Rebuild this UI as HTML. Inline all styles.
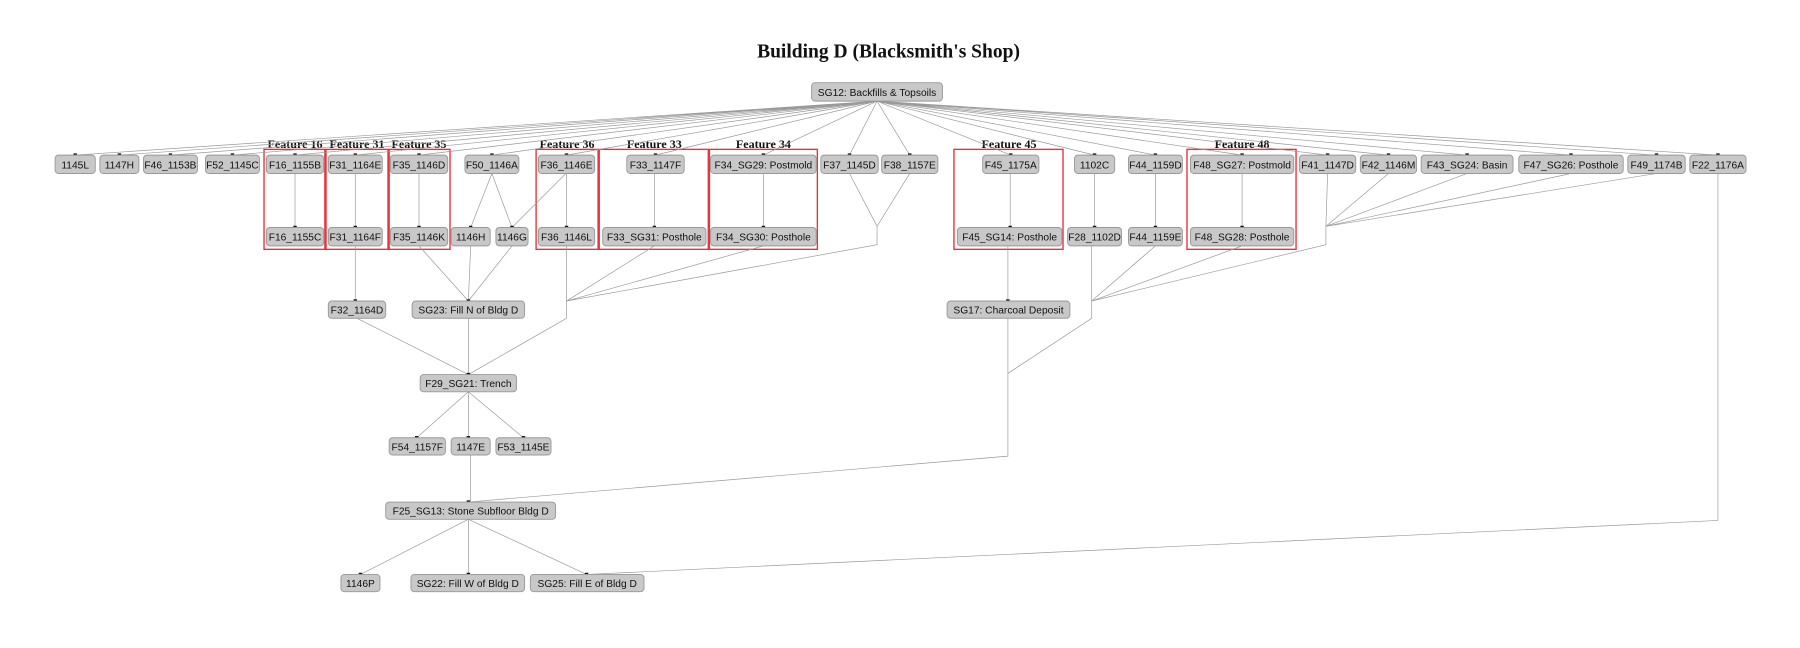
<!DOCTYPE html>
<html><head><meta charset="utf-8"><style>
html,body{margin:0;padding:0;background:#fff;}
svg{display:block;}
.n rect{fill:#c8c8c8;stroke:#999;stroke-width:0.8;}
.n text,text.l{font-family:"Liberation Sans",sans-serif;font-size:8.9px;fill:#111;text-anchor:middle;}
.e{stroke:#9a9a9a;stroke-width:0.6;fill:none;}
.c{fill:none;stroke:#e8323c;stroke-width:1.2;}
.ft{font-family:"Liberation Serif",serif;font-weight:bold;font-size:10.5px;text-anchor:middle;fill:#111;}
.a{fill:#111;}
</style></head><body>
<svg width="1800" height="648" viewBox="0 0 1568 564" preserveAspectRatio="none" xmlns="http://www.w3.org/2000/svg">
<text x="774" y="50" style="font-family:'Liberation Serif',serif;font-weight:bold;font-size:17px;text-anchor:middle;fill:#111">Building D (Blacksmith's Shop)</text>

<rect class="c" x="230" y="130" width="53" height="87"/><text class="ft" x="257" y="129">Feature 16</text>
<rect class="c" x="284" y="130" width="54" height="87"/><text class="ft" x="311" y="129">Feature 31</text>
<rect class="c" x="339" y="130" width="53" height="87"/><text class="ft" x="365" y="129">Feature 35</text>
<rect class="c" x="467" y="130" width="54" height="87"/><text class="ft" x="494" y="129">Feature 36</text>
<rect class="c" x="522" y="130" width="95" height="87"/><text class="ft" x="570" y="129">Feature 33</text>
<rect class="c" x="618" y="130" width="94" height="87"/><text class="ft" x="665" y="129">Feature 34</text>
<rect class="c" x="831" y="130" width="95" height="87"/><text class="ft" x="879" y="129">Feature 45</text>
<rect class="c" x="1034" y="130" width="95" height="87"/><text class="ft" x="1082" y="129">Feature 48</text>

<g class="e">
<path d="M764 88L65.5 135M764 88L104 135M764 88L148.5 135M764 88L202.5 135M764 88L257 135M764 88L309.5 135M764 88L365 135M764 88L428.5 135M764 88L493.5 135M764 88L571 135M764 88L665 135M764 88L740 135M764 88L792.5 135M764 88L880.5 135M764 88L953.5 135M764 88L1006.5 135M764 88L1082 135M764 88L1156.5 135M764 88L1209.5 135M764 88L1278 135M764 88L1368.5 135M764 88L1443 135M764 88L1496.5 135"/>
<path d="M257 151V198M309.5 151V198M365 151V198M493.5 151V198M570 151V198M665 151V198M880 151V198M953.5 151V198M1006.5 151V198M1082 151V198"/>
<path d="M428.5 151L410 198M428.5 151L446 198M493 151L446 198"/>
<path d="M365 214L408 262M410 214L408 262M446 214L408 262M309.5 214V262"/>
<path d="M311 277L408 326M408 277V326M493.5 214V277L408 326"/>
<path d="M570 214L493.5 262M665 214L493.5 262M740 151L764 197M792.5 151L764 197M764 197V213L493.5 262"/>
<path d="M1209.5 151L1155 197M1278 151L1155 197M1368.5 151L1155 197M1443 151L1155 197M1156.5 151L1155 197V213L951 262"/>
<path d="M1006.5 214L951 262M1082 214L951 262M951 214V277L878 325"/>
<path d="M878 214V262M878 277V397L408 437"/>
<path d="M408 341L363 381M408 341V381M408 341L456 381M410 396V437"/>
<path d="M408 452L314 500M408 452V500M408 452L511 500M1496.5 151V453L511 500"/>
</g>

<g class="a">
<rect x="64" y="133.5" width="3" height="2"/><rect x="102.5" y="133.5" width="3" height="2"/><rect x="147" y="133.5" width="3" height="2"/><rect x="201" y="133.5" width="3" height="2"/><rect x="255.5" y="133.5" width="3" height="2"/><rect x="308" y="133.5" width="3" height="2"/><rect x="363.5" y="133.5" width="3" height="2"/><rect x="427" y="133.5" width="3" height="2"/><rect x="492" y="133.5" width="3" height="2"/><rect x="569.5" y="133.5" width="3" height="2"/><rect x="663.5" y="133.5" width="3" height="2"/><rect x="738.5" y="133.5" width="3" height="2"/><rect x="791" y="133.5" width="3" height="2"/><rect x="879" y="133.5" width="3" height="2"/><rect x="952" y="133.5" width="3" height="2"/><rect x="1005" y="133.5" width="3" height="2"/><rect x="1080.5" y="133.5" width="3" height="2"/><rect x="1155" y="133.5" width="3" height="2"/><rect x="1208" y="133.5" width="3" height="2"/><rect x="1276.5" y="133.5" width="3" height="2"/><rect x="1367" y="133.5" width="3" height="2"/><rect x="1441.5" y="133.5" width="3" height="2"/><rect x="1495" y="133.5" width="3" height="2"/>
<rect x="255.5" y="196.5" width="3" height="2"/><rect x="308" y="196.5" width="3" height="2"/><rect x="363.5" y="196.5" width="3" height="2"/><rect x="408.5" y="196.5" width="3" height="2"/><rect x="444.5" y="196.5" width="3" height="2"/><rect x="492" y="196.5" width="3" height="2"/><rect x="568.5" y="196.5" width="3" height="2"/><rect x="663.5" y="196.5" width="3" height="2"/><rect x="878.5" y="196.5" width="3" height="2"/><rect x="952" y="196.5" width="3" height="2"/><rect x="1005" y="196.5" width="3" height="2"/><rect x="1080.5" y="196.5" width="3" height="2"/>
<rect x="308" y="260.5" width="3" height="2"/><rect x="406.5" y="260.5" width="3" height="2"/><rect x="876.5" y="260.5" width="3" height="2"/>
<rect x="406.5" y="324.5" width="3" height="2"/>
<rect x="361.5" y="379.5" width="3" height="2"/><rect x="406.5" y="379.5" width="3" height="2"/><rect x="454.5" y="379.5" width="3" height="2"/>
<rect x="406.5" y="435.5" width="3" height="2"/>
<rect x="312.5" y="498.5" width="3" height="2"/><rect x="406.5" y="498.5" width="3" height="2"/><rect x="509.5" y="498.5" width="3" height="2"/>
</g>

<g class="n">
<rect x="707" y="72" width="114" height="16" rx="3"/><text x="764" y="83.5">SG12: Backfills &amp; Topsoils</text>

<rect x="48" y="135" width="35" height="16" rx="3"/><text x="65.5" y="146.5">1145L</text>
<rect x="87" y="135" width="34" height="16" rx="3"/><text x="104" y="146.5">1147H</text>
<rect x="125" y="135" width="47" height="16" rx="3"/><text x="148.5" y="146.5">F46_1153B</text>
<rect x="179" y="135" width="47" height="16" rx="3"/><text x="202.5" y="146.5">F52_1145C</text>
<rect x="232" y="135" width="50" height="16" rx="3"/><text x="257" y="146.5">F16_1155B</text>
<rect x="286" y="135" width="47" height="16" rx="3"/><text x="309.5" y="146.5">F31_1164E</text>
<rect x="340" y="135" width="50" height="16" rx="3"/><text x="365" y="146.5">F35_1146D</text>
<rect x="405" y="135" width="47" height="16" rx="3"/><text x="428.5" y="146.5">F50_1146A</text>
<rect x="469" y="135" width="49" height="16" rx="3"/><text x="493.5" y="146.5">F36_1146E</text>
<rect x="546" y="135" width="50" height="16" rx="3"/><text x="571" y="146.5">F33_1147F</text>
<rect x="619" y="135" width="92" height="16" rx="3"/><text x="665" y="146.5">F34_SG29: Postmold</text>
<rect x="715" y="135" width="50" height="16" rx="3"/><text x="740" y="146.5">F37_1145D</text>
<rect x="768" y="135" width="49" height="16" rx="3"/><text x="792.5" y="146.5">F38_1157E</text>
<rect x="856" y="135" width="49" height="16" rx="3"/><text x="880.5" y="146.5">F45_1175A</text>
<rect x="936" y="135" width="35" height="16" rx="3"/><text x="953.5" y="146.5">1102C</text>
<rect x="983" y="135" width="47" height="16" rx="3"/><text x="1006.5" y="146.5">F44_1159D</text>
<rect x="1037" y="135" width="90" height="16" rx="3"/><text x="1082" y="146.5">F48_SG27: Postmold</text>
<rect x="1132" y="135" width="49" height="16" rx="3"/><text x="1156.5" y="146.5">F41_1147D</text>
<rect x="1185" y="135" width="49" height="16" rx="3"/><text x="1209.5" y="146.5">F42_1146M</text>
<rect x="1238" y="135" width="80" height="16" rx="3"/><text x="1278" y="146.5">F43_SG24: Basin</text>
<rect x="1323" y="135" width="91" height="16" rx="3"/><text x="1368.5" y="146.5">F47_SG26: Posthole</text>
<rect x="1418" y="135" width="50" height="16" rx="3"/><text x="1443" y="146.5">F49_1174B</text>
<rect x="1472" y="135" width="49" height="16" rx="3"/><text x="1496.5" y="146.5">F22_1176A</text>

<rect x="232" y="198" width="50" height="16" rx="3"/><text x="257" y="209.5">F16_1155C</text>
<rect x="286" y="198" width="47" height="16" rx="3"/><text x="309.5" y="209.5">F31_1164F</text>
<rect x="340" y="198" width="50" height="16" rx="3"/><text x="365" y="209.5">F35_1146K</text>
<rect x="393" y="198" width="34" height="16" rx="3"/><text x="410" y="209.5">1146H</text>
<rect x="432" y="198" width="28" height="16" rx="3"/><text x="446" y="209.5">1146G</text>
<rect x="469" y="198" width="49" height="16" rx="3"/><text x="493.5" y="209.5">F36_1146L</text>
<rect x="525" y="198" width="90" height="16" rx="3"/><text x="570" y="209.5">F33_SG31: Posthole</text>
<rect x="619" y="198" width="92" height="16" rx="3"/><text x="665" y="209.5">F34_SG30: Posthole</text>
<rect x="834" y="198" width="91" height="16" rx="3"/><text x="879.5" y="209.5">F45_SG14: Posthole</text>
<rect x="930" y="198" width="47" height="16" rx="3"/><text x="953.5" y="209.5">F28_1102D</text>
<rect x="983" y="198" width="47" height="16" rx="3"/><text x="1006.5" y="209.5">F44_1159E</text>
<rect x="1037" y="198" width="90" height="16" rx="3"/><text x="1082" y="209.5">F48_SG28: Posthole</text>

<rect x="286" y="262" width="50" height="15" rx="3"/><text x="311" y="273">F32_1164D</text>
<rect x="359" y="262" width="98" height="15" rx="3"/><text x="408" y="273">SG23: Fill N of Bldg D</text>
<rect x="825" y="262" width="107" height="15" rx="3"/><text x="878.5" y="273">SG17: Charcoal Deposit</text>

<rect x="366" y="326" width="84" height="15" rx="3"/><text x="408" y="337">F29_SG21: Trench</text>

<rect x="339" y="381" width="49" height="15" rx="3"/><text x="363.5" y="392">F54_1157F</text>
<rect x="393" y="381" width="34" height="15" rx="3"/><text x="410" y="392">1147E</text>
<rect x="432" y="381" width="48" height="15" rx="3"/><text x="456" y="392">F53_1145E</text>

<rect x="336" y="437" width="148" height="15" rx="3"/><text x="410" y="448">F25_SG13: Stone Subfloor Bldg D</text>

<rect x="297" y="500" width="34" height="15" rx="3"/><text x="314" y="511">1146P</text>
<rect x="358" y="500" width="99" height="15" rx="3"/><text x="407.5" y="511">SG22: Fill W of Bldg D</text>
<rect x="462" y="500" width="99" height="15" rx="3"/><text x="511.5" y="511">SG25: Fill E of Bldg D</text>
</g>
</svg>
</body></html>
